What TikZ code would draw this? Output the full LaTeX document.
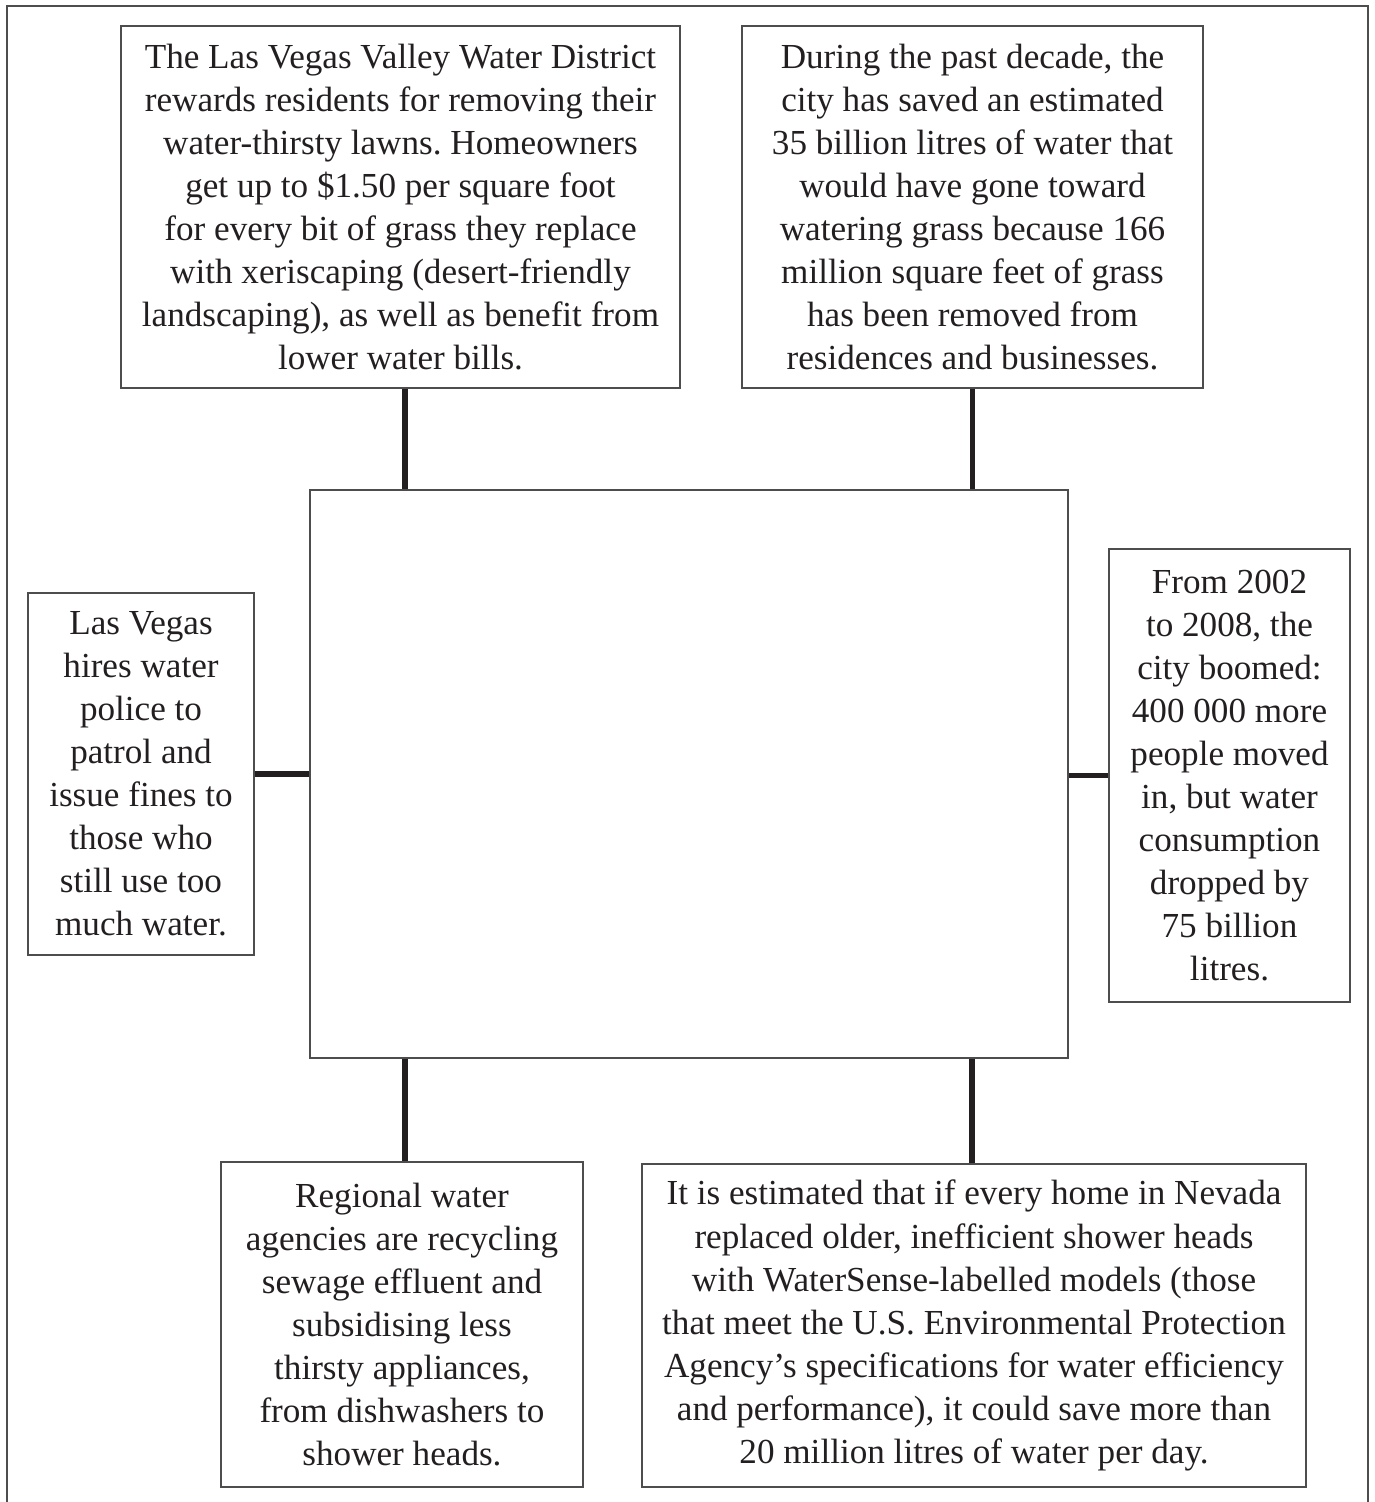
\documentclass[tikz,border=0pt]{standalone}
\usepackage{fontspec}
\setmainfont{Liberation Serif}
\usetikzlibrary{calc}
\definecolor{ink}{HTML}{231F20}
\definecolor{rule}{HTML}{4D4D4D}
\frenchspacing

\begin{document}
\begin{tikzpicture}[x=0.02cm,y=-0.02cm,
  every node/.style={font=\fontsize{20}{24.5}\selectfont, text=ink, align=center, inner sep=0pt},
  fact/.style={draw=rule, line width=0.7pt},
  link/.style={draw=ink, line width=3.1pt}]
\useasboundingbox (0,0) rectangle (1375,1502);
\draw[rule, line width=0.9pt] (7,1502) -- (7,6) -- (1368,6) -- (1368,1502);
\node[fact, minimum width=11.18cm, minimum height=7.24cm] (lawn) at (400.5,207) {The Las Vegas Valley Water District\\rewards residents for removing their\\water-thirsty lawns. Homeowners\\get up to \$1.50 per square foot\\for every bit of grass they replace\\with xeriscaping (desert-friendly\\landscaping), as well as benefit from\\lower water bills.};
\node[fact, minimum width=9.22cm, minimum height=7.24cm] (saved) at (972.5,207) {During the past decade, the\\city has saved an estimated\\35 billion litres of water that\\would have gone toward\\watering grass because 166\\million square feet of grass\\has been removed from\\residences and businesses.};
\node[fact, minimum width=15.16cm, minimum height=11.36cm] (centre) at (689,774) {};
\node[fact, minimum width=4.52cm, minimum height=7.24cm] (police) at (141,774) {Las Vegas\\hires water\\police to\\patrol and\\issue fines to\\those who\\still use too\\much water.};
\node[fact, minimum width=4.82cm, minimum height=9.06cm] (boom) at (1229.5,775.5) {From 2002\\to 2008, the\\city boomed:\\400 000 more\\people moved\\in, but water\\consumption\\dropped by\\75 billion\\litres.};
\node[fact, minimum width=7.24cm, minimum height=6.5cm] (recycle) at (402,1324.5) {Regional water\\agencies are recycling\\sewage effluent and\\subsidising less\\thirsty appliances,\\from dishwashers to\\shower heads.};
\node[fact, minimum width=13.28cm, minimum height=6.46cm] (shower) at (974,1325.5) {It is estimated that if every home in Nevada\\replaced older, inefficient shower heads\\with WaterSense-labelled models (those\\that meet the U.S. Environmental Protection\\Agency’s specifications for water efficiency\\and performance), it could save more than\\20 million litres of water per day.};
\draw[link] ($(lawn.south)+(4.5,0)$) -- ($(lawn.south |- centre.north)+(4.5,0)$);
\draw[link] (saved.south) -- (saved.south |- centre.north);
\draw[link] (police.east) -- (police.east -| centre.west);
\draw[link] (centre.east |- boom.west) -- (boom.west);
\draw[link] ($(recycle.north |- centre.south)+(3,0)$) -- ($(recycle.north)+(3,0)$);
\draw[link] ($(shower.north |- centre.south)+(-2,0)$) -- ($(shower.north)+(-2,0)$);
\end{tikzpicture}
\end{document}
